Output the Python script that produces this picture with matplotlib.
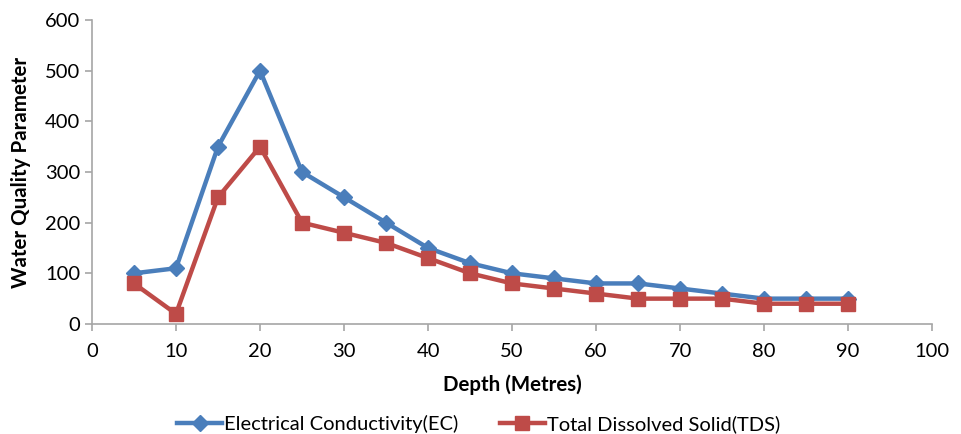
import matplotlib
matplotlib.use("Agg")
import matplotlib.pyplot as plt

plt.rcParams["font.family"] = ["Lato", "DejaVu Sans"]

depth = [5, 10, 15, 20, 25, 30, 35, 40, 45, 50, 55, 60, 65, 70, 75, 80, 85, 90]
ec = [100, 110, 350, 500, 300, 250, 200, 150, 120, 100, 90, 80, 80, 70, 60, 50, 50, 50]
tds = [80, 20, 250, 350, 200, 180, 160, 130, 100, 80, 70, 60, 50, 50, 50, 40, 40, 40]

fig = plt.figure(figsize=(9.61, 4.34), dpi=100)
ax = fig.add_axes([0.0957, 0.2535, 0.8743, 0.7005])

ax.plot(depth, ec, color="#4A7EBB", lw=3.2, marker="D", ms=8.5,
        label="Electrical Conductivity(EC)", zorder=3)
ax.plot(depth, tds, color="#BE4B48", lw=3.2, marker="s", ms=10,
        label="Total Dissolved Solid(TDS)", zorder=3)

ax.set_xlim(0, 100)
ax.set_ylim(0, 600)
ax.set_xticks(range(0, 101, 10))
ax.set_yticks(range(0, 601, 100))
for side in ("top", "right"):
    ax.spines[side].set_visible(False)
for side in ("left", "bottom"):
    ax.spines[side].set_color("#A6A6A6")
    ax.spines[side].set_linewidth(1.2)
ax.tick_params(colors="#A6A6A6", labelcolor="black", labelsize=14.5, length=5, width=1.2)
ax.tick_params(axis="x", pad=9)

ax.set_xlabel("Depth (Metres)", fontsize=14.8, fontweight="bold", labelpad=10)
ax.set_ylabel("Water Quality Parameter", fontsize=14.8, fontweight="bold", labelpad=10)

# legend centred on the figure, not the axes
fig.legend(*ax.get_legend_handles_labels(), loc="center", bbox_to_anchor=(0.498, 0.022),
           ncol=2, frameon=False, fontsize=14.5, handlelength=2.2, columnspacing=2.1,
           handletextpad=0.1, borderpad=0, borderaxespad=0)

fig.savefig("out.png", dpi=100)
